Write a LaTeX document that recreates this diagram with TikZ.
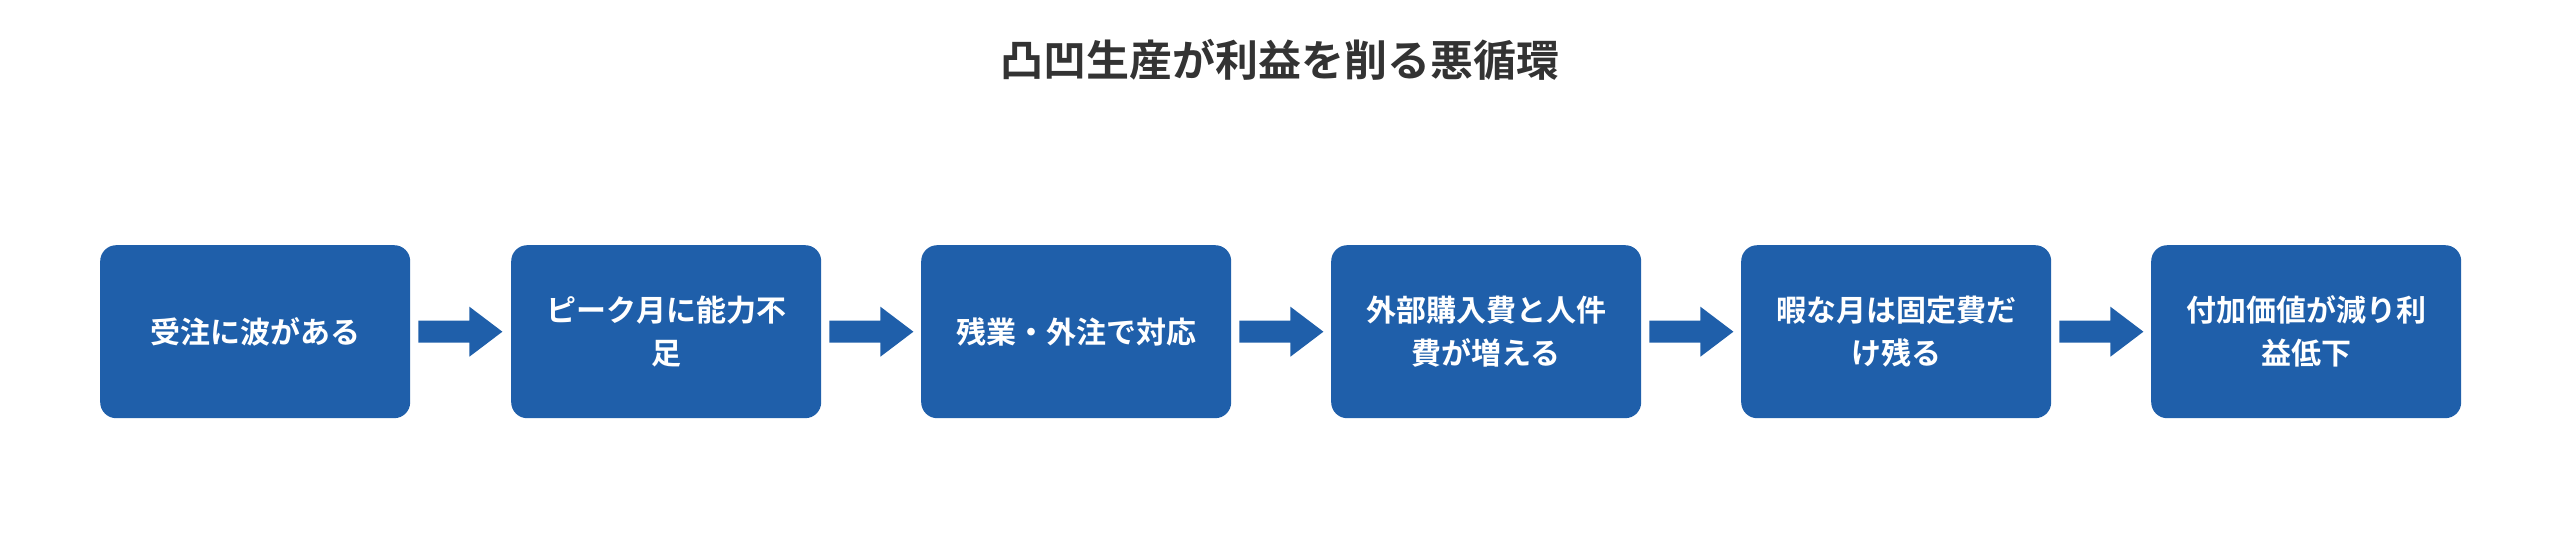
\documentclass[tikz,border=0pt]{standalone}
\usepackage{fontspec}
\newfontfamily\cjk{Noto Sans CJK JP}[BoldFont={* Bold}]
\definecolor{boxblue}{HTML}{1F5FAA}
\definecolor{titlec}{HTML}{333333}
\begin{document}
\begin{tikzpicture}[x=1pt,y=-1pt,
  stepbox/.style={fill=boxblue,rounded corners=16pt,minimum width=310pt,minimum height=173pt,inner sep=0pt,anchor=north west,text=white,font=\cjk\bfseries\fontsize{30}{43}\selectfont,align=center},
  blockarrow/.style={fill=boxblue}]
\useasboundingbox (0,0) rectangle (2560,546);
\node[font=\cjk\bfseries\fontsize{43}{50}\selectfont,text=titlec] (title) at (1280,60) {凸凹生産が利益を削る悪循環};
\node[stepbox] (b1) at (100,245) {受注に波がある};
\node[stepbox] (b2) at (511,245) {ピーク月に能力不\\足};
\node[stepbox] (b3) at (921,245) {残業・外注で対応};
\node[stepbox] (b4) at (1331,245) {外部購入費と人件\\費が増える};
\node[stepbox] (b5) at (1741,245) {暇な月は固定費だ\\け残る};
\node[stepbox] (b6) at (2151,245) {付加価値が減り利\\益低下};
\foreach \a/\b in {b1/b2,b2/b3,b3/b4,b4/b5,b5/b6}{
  \path (\a.east) ++(8,0) coordinate (s);
  \fill[blockarrow] (s) ++(0,-11) -- ++(51,0) -- ++(0,-14) -- ++(33,25) -- ++(-33,25) -- ++(0,-14) -- ++(-51,0) -- cycle;
}
\end{tikzpicture}
\end{document}
